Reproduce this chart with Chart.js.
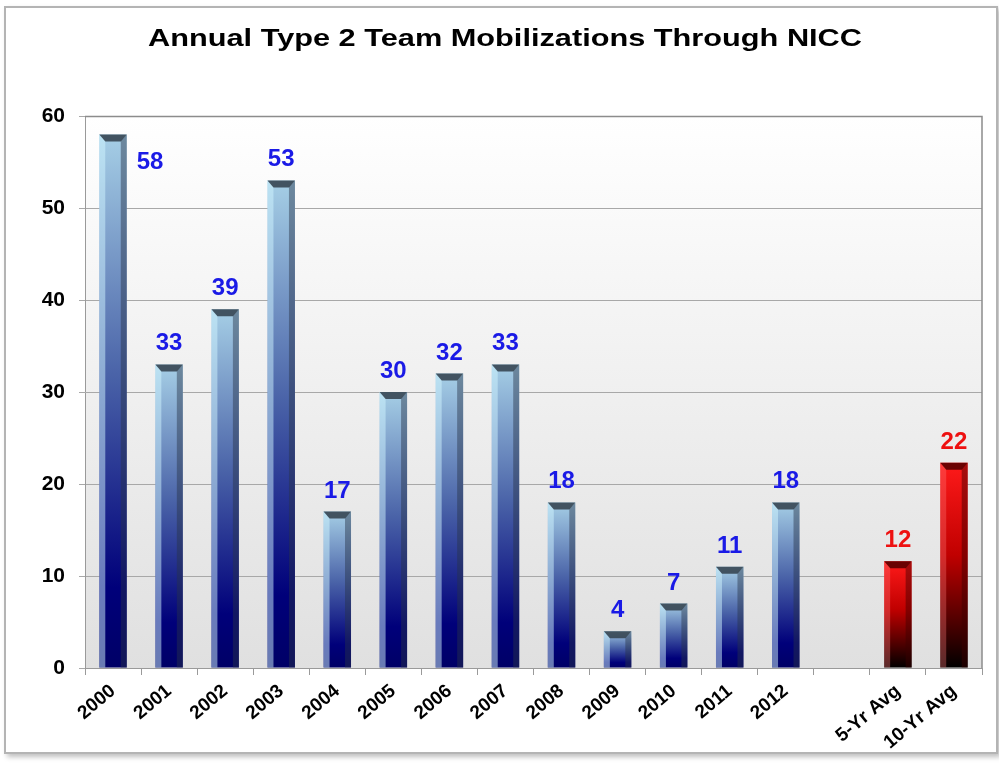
<!DOCTYPE html>
<html>
<head>
<meta charset="utf-8">
<script src="https://cdn.jsdelivr.net/npm/chart.js@4.4.1/dist/chart.umd.min.js"></script>
<style>
  html,body{margin:0;padding:0;background:#fff;}
  #frame{position:absolute;left:4px;top:6px;width:990px;height:744px;border:2px solid #b4b4b4;box-shadow:3px 3px 5px rgba(0,0,0,.25);background:#fff;}
  #wrap{position:absolute;left:0;top:0;width:999px;height:763px;}
</style>
</head>
<body>
<div id="frame"></div>
<div id="wrap"><canvas id="c"></canvas></div>
<script>
'use strict';
const chartTitle='Annual Type 2 Team Mobilizations Through NICC';
const categories=['2000','2001','2002','2003','2004','2005','2006','2007','2008','2009','2010','2011','2012','','5-Yr Avg','10-Yr Avg'];
const values=[58,33,39,53,17,30,32,33,18,4,7,11,18,null,11.6,22.3];
const valueLabels=['58','33','39','53','17','30','32','33','18','4','7','11','18','','12','22'];
const barKind=['b','b','b','b','b','b','b','b','b','b','b','b','b','','r','r'];
const yTicks=[0,10,20,30,40,50,60];

const FONT='Arial, "Liberation Sans", sans-serif';

function faceFill(c){
  const chart=c.chart, i=c.dataIndex, v=values[i];
  const ys=chart.scales.y;
  const fallback=barKind[i]==='r'?'#a00000':'#203080';
  if(!ys || v==null || !chart.chartArea) return fallback;
  const top=ys.getPixelForValue(v), base=ys.getPixelForValue(0);
  if(!isFinite(top) || !isFinite(base)) return fallback;
  const g=chart.ctx.createLinearGradient(0,top,0,base);
  if(barKind[i]==='r'){
    g.addColorStop(0,'#ff1a1a');
    g.addColorStop(0.45,'#c00000');
    g.addColorStop(1,'#000000');
  }else{
    g.addColorStop(0,'#a6cfe6');
    g.addColorStop(0.45,'#4a63a8');
    g.addColorStop(0.85,'#00007a');
    g.addColorStop(1,'#000066');
  }
  return g;
}

// plot background, border, stretched title
const plotBg={
  id:'plotBg',
  beforeDraw(chart){
    const {ctx,chartArea:a}=chart;
    const g=ctx.createLinearGradient(0,a.top,0,a.bottom);
    g.addColorStop(0,'#ffffff');
    g.addColorStop(1,'#e0e0e0');
    ctx.save();
    ctx.fillStyle=g;
    ctx.fillRect(a.left,a.top,a.right-a.left,a.bottom-a.top);
    ctx.restore();
  },
  afterDraw(chart){
    const {ctx,chartArea:a}=chart;
    ctx.save();
    ctx.strokeStyle='#8c8c8c';ctx.lineWidth=1.5;
    ctx.beginPath();
    ctx.moveTo(a.left,a.top+0.5);ctx.lineTo(a.right,a.top+0.5);ctx.lineTo(a.right,a.bottom);
    ctx.stroke();
    // title (source is horizontally stretched)
    ctx.translate(505,46);
    ctx.scale(1.28,1);
    ctx.font='bold 24px '+FONT;
    ctx.fillStyle='#000';
    ctx.textAlign='center';ctx.textBaseline='alphabetic';
    ctx.fillText(chartTitle,0,0);
    ctx.restore();
  }
};

// bevel look + value labels
const bevel={
  id:'bevel',
  afterDatasetsDraw(chart){
    const ctx=chart.ctx, meta=chart.getDatasetMeta(0), a=chart.chartArea;
    ctx.save();
    meta.data.forEach((bar,i)=>{
      if(values[i]==null) return;
      const p=bar.getProps(['x','y','base','width'],true);
      const l=p.x-p.width/2, r=p.x+p.width/2, t=p.y, b=p.base, d=6;
      const red=barKind[i]==='r';
      // left highlight
      ctx.fillStyle=red?'rgba(255,120,120,0.35)':'rgba(210,245,255,0.5)';
      ctx.beginPath();ctx.moveTo(l,t);ctx.lineTo(l+d,t+d);ctx.lineTo(l+d,b);ctx.lineTo(l,b);ctx.closePath();ctx.fill();
      // right shade
      ctx.fillStyle=red?'rgba(60,0,0,0.45)':'rgba(40,50,70,0.45)';
      ctx.beginPath();ctx.moveTo(r,t);ctx.lineTo(r-d,t+d);ctx.lineTo(r-d,b);ctx.lineTo(r,b);ctx.closePath();ctx.fill();
      // top cap
      ctx.fillStyle=red?'rgba(90,0,0,0.9)':'rgba(55,70,82,0.9)';
      ctx.beginPath();ctx.moveTo(l,t);ctx.lineTo(r,t);ctx.lineTo(r-d,t+d+1);ctx.lineTo(l+d,t+d+1);ctx.closePath();ctx.fill();
      // label
      ctx.font='bold 24px '+FONT;
      ctx.fillStyle=red?'#ee1111':'#1a1ae6';
      if(t-32<a.top){
        ctx.textAlign='left';ctx.textBaseline='middle';
        ctx.fillText(valueLabels[i],r+10,t+28);
      }else{
        ctx.textAlign='center';ctx.textBaseline='alphabetic';
        ctx.fillText(valueLabels[i],p.x,t-14);
      }
    });
    ctx.restore();
  }
};

new Chart(document.getElementById('c'),{
  type:'bar',
  data:{
    labels:categories,
    datasets:[{
      data:values,
      backgroundColor:faceFill,
      borderWidth:0,
      barPercentage:0.49,
      categoryPercentage:1
    }]
  },
  options:{
    responsive:true,
    maintainAspectRatio:false,
    animation:false,
    layout:{padding:{left:0,right:17,top:116,bottom:0}},
    plugins:{
      legend:{display:false},
      tooltip:{enabled:false},
      title:{display:false}
    },
    scales:{
      x:{
        grid:{display:true,drawOnChartArea:false,color:'#9a9a9a',tickLength:7,offset:true},
        border:{color:'#9a9a9a'},
        ticks:{
          color:'#000',maxRotation:40,minRotation:40,autoSkip:false,padding:5,
          font:{family:FONT,size:19,weight:'bold'}
        },
        afterFit(s){ s.height=95; }
      },
      y:{
        min:0,max:60,
        afterBuildTicks(s){ s.ticks=yTicks.map(v=>({value:v})); },
        grid:{color:'#a8a8a8',tickLength:6,lineWidth:1},
        border:{color:'#9a9a9a'},
        ticks:{
          color:'#000',padding:14,
          font:{family:FONT,size:21,weight:'bold'}
        },
        afterFit(s){ s.width=85; }
      }
    }
  },
  plugins:[plotBg,bevel]
});
</script>
</body>
</html>
